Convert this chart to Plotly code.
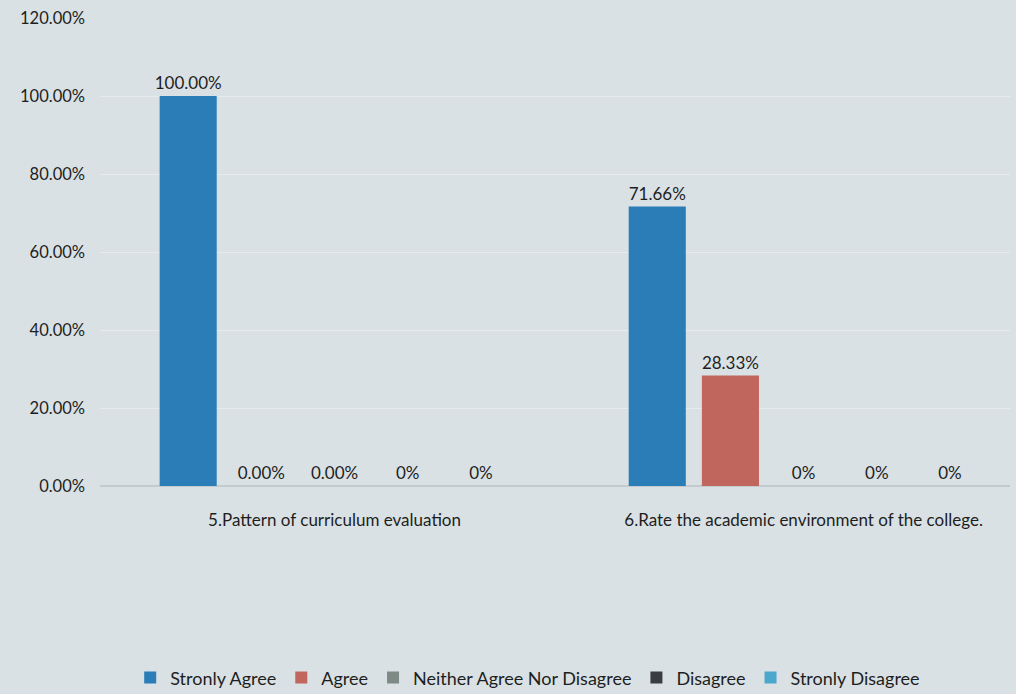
import plotly.graph_objects as go

categories = ["5.Pattern of curriculum evaluation", "6.Rate the academic environment of the college."]
series_names = ["Stronly Agree", "Agree", "Neither Agree Nor Disagree", "Disagree", "Stronly Disagree"]
strongly_agree = [100.0, 71.66]
agree = [0.0, 28.33]
neither = [0.0, 0.0]
disagree = [0.0, 0.0]
strongly_disagree = [0.0, 0.0]
labels_strongly_agree = ["100.00%", "71.66%"]
labels_agree = ["0.00%", "28.33%"]
labels_neither = ["0.00%", "0%"]
labels_disagree = ["0%", "0%"]
labels_strongly_disagree = ["0%", "0%"]
y_ticks = [0, 20, 40, 60, 80, 100, 120]
y_tick_labels = ["0.00%", "20.00%", "40.00%", "60.00%", "80.00%", "100.00%", "120.00%"]

values = [strongly_agree, agree, neither, disagree, strongly_disagree]
texts = [labels_strongly_agree, labels_agree, labels_neither, labels_disagree, labels_strongly_disagree]
colors = ["#2b7db8", "#c0665c", "#7e8a86", "#3a3d40", "#4ba7cb"]

font_family = "Lato, 'Open Sans', sans-serif"

fig = go.Figure()
for name, vals, txt, col in zip(series_names, values, texts, colors):
    fig.add_trace(go.Bar(
        name=name, x=categories, y=vals, text=txt,
        textposition="outside", cliponaxis=False, constraintext="none",
        textfont=dict(size=17, color="#1e1e1e", family=font_family),
        marker=dict(color=col, line=dict(width=0)),
    ))

fig.update_layout(
    width=1016, height=694,
    paper_bgcolor="#d9e1e4", plot_bgcolor="#d9e1e4",
    barmode="group", bargap=0.22, bargroupgap=0.22,
    margin=dict(l=100, r=6, t=18, b=208, autoexpand=False),
    font=dict(family=font_family, size=16, color="#1e1e1e"),
    xaxis=dict(range=[-0.5, 1.44], showgrid=False, showline=False,
               ticks="", tickfont=dict(size=17), ticklabelstandoff=22),
    yaxis=dict(range=[0, 120], tickvals=y_ticks, ticktext=y_tick_labels,
               showgrid=True, gridcolor="#e6ecee", gridwidth=1,
               zeroline=True, zerolinecolor="#c3cbce", zerolinewidth=1.5,
               showline=False, ticks="", tickfont=dict(size=16.5),
               ticklabelstandoff=14),
    showlegend=True,
    legend=dict(orientation="h", x=0.47, xanchor="center", y=-0.41, yanchor="middle",
                font=dict(size=18), itemwidth=30, traceorder="normal",
                bgcolor="rgba(0,0,0,0)"),
)

fig.write_html("out.html", config={"displayModeBar": False},
               post_script="document.body.style.margin='0';")
